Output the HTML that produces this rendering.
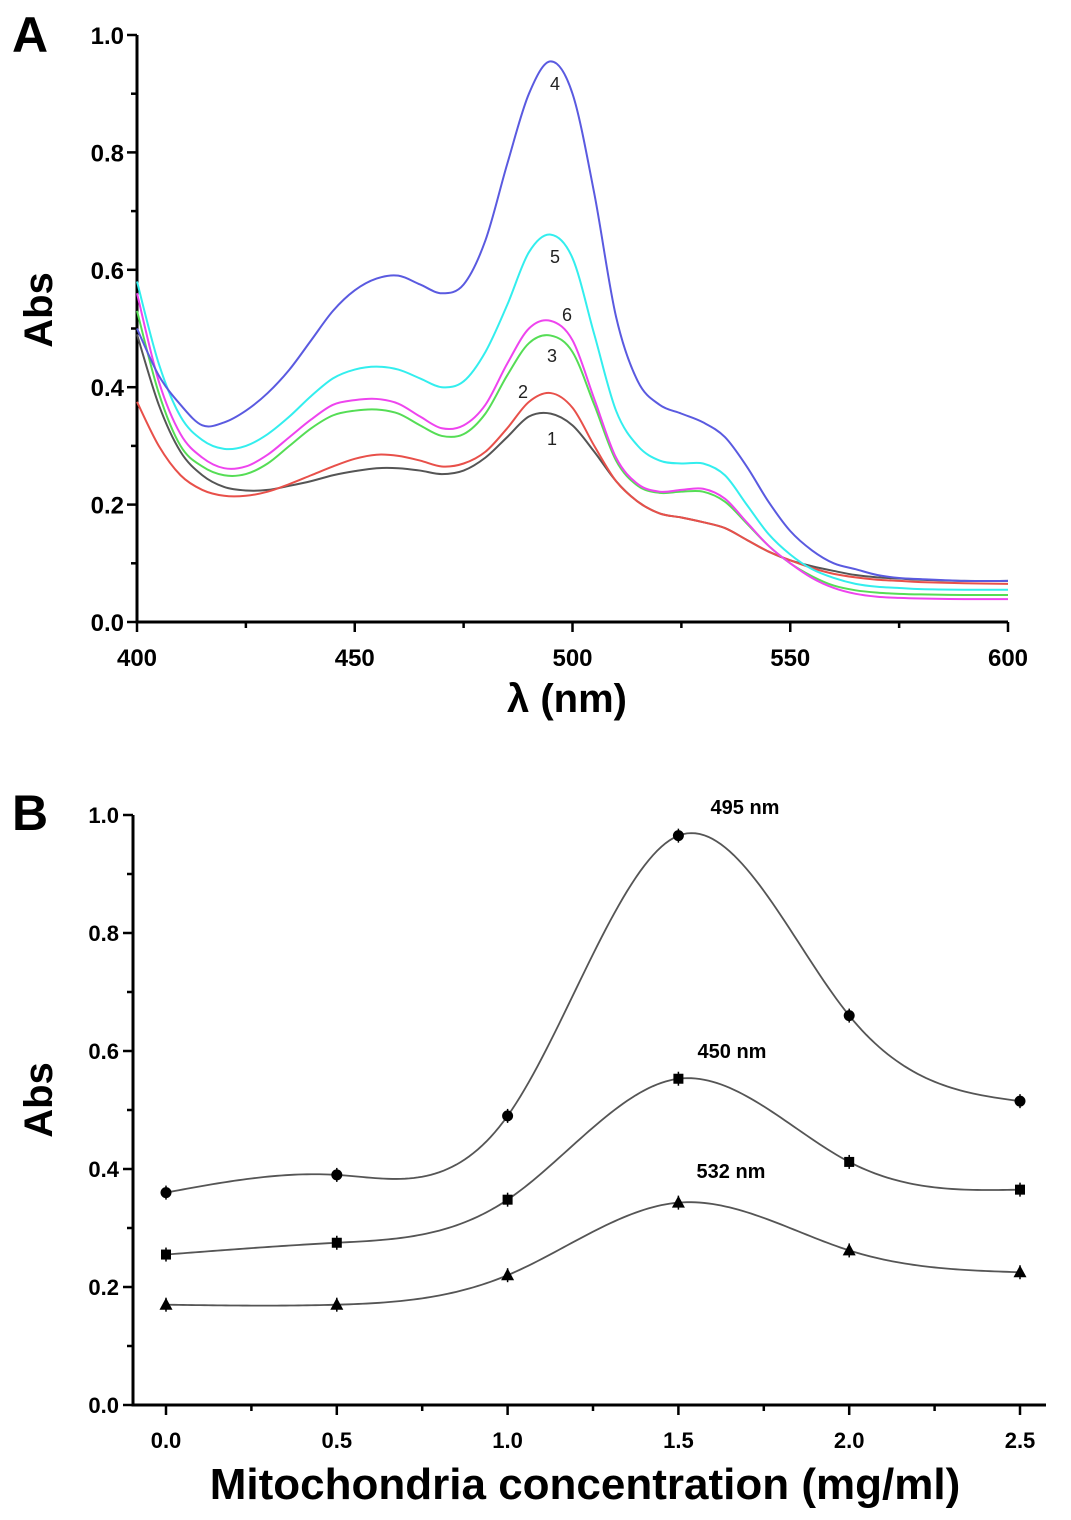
<!DOCTYPE html>
<html><head><meta charset="utf-8"><style>
body{margin:0;background:#fff}
svg{display:block;font-family:"Liberation Sans",Arial,sans-serif}
</style></head><body>
<svg id="fig" width="1071" height="1520" viewBox="0 0 1071 1520" xmlns="http://www.w3.org/2000/svg">
<g id="pa"></g>
<g id="pb"></g>
</svg>
<script>
const wavelengths=[400,405,410,415,420,425,430,435,440,445,450,455,460,465,470,475,480,485,490,495,500,505,510,515,520,525,530,535,540,545,550,555,560,565,570,575,580,590,600];
const s4=[0.50,0.42,0.37,0.335,0.34,0.36,0.39,0.43,0.48,0.53,0.565,0.585,0.59,0.575,0.56,0.575,0.65,0.78,0.90,0.955,0.90,0.73,0.52,0.41,0.37,0.355,0.34,0.315,0.265,0.205,0.155,0.122,0.10,0.09,0.08,0.075,0.073,0.07,0.07];
const s5=[0.58,0.44,0.35,0.31,0.295,0.30,0.32,0.35,0.385,0.415,0.43,0.435,0.43,0.415,0.40,0.41,0.46,0.54,0.63,0.66,0.62,0.49,0.36,0.30,0.275,0.27,0.27,0.25,0.20,0.15,0.115,0.09,0.075,0.065,0.06,0.058,0.056,0.055,0.055];
const s6=[0.56,0.41,0.32,0.28,0.262,0.265,0.285,0.315,0.345,0.37,0.378,0.38,0.372,0.35,0.33,0.335,0.37,0.44,0.50,0.513,0.48,0.38,0.28,0.235,0.222,0.225,0.227,0.21,0.17,0.13,0.10,0.075,0.058,0.048,0.043,0.041,0.04,0.039,0.039];
const s3=[0.53,0.39,0.30,0.265,0.25,0.252,0.27,0.30,0.33,0.352,0.36,0.362,0.355,0.335,0.317,0.32,0.355,0.42,0.475,0.488,0.46,0.37,0.275,0.232,0.22,0.222,0.222,0.205,0.168,0.13,0.10,0.078,0.062,0.054,0.05,0.048,0.047,0.046,0.046];
const s2=[0.375,0.30,0.25,0.225,0.215,0.215,0.222,0.235,0.25,0.265,0.278,0.285,0.283,0.275,0.265,0.27,0.29,0.33,0.375,0.39,0.365,0.30,0.24,0.205,0.185,0.178,0.17,0.16,0.14,0.12,0.105,0.092,0.082,0.076,0.072,0.07,0.068,0.066,0.065];
const s1=[0.49,0.37,0.29,0.25,0.23,0.224,0.225,0.232,0.24,0.25,0.257,0.262,0.262,0.258,0.252,0.258,0.28,0.315,0.35,0.355,0.335,0.29,0.24,0.205,0.185,0.178,0.17,0.16,0.14,0.12,0.105,0.095,0.087,0.08,0.076,0.074,0.072,0.07,0.07];
const concentrations=[0,0.5,1,1.5,2,2.5];
const abs495=[0.36,0.39,0.49,0.965,0.66,0.515];
const abs450=[0.255,0.275,0.348,0.553,0.412,0.365];
const abs532=[0.17,0.17,0.22,0.343,0.262,0.225];
const xTicksA=[400,450,500,550,600];
const yTicks=[0.0,0.2,0.4,0.6,0.8,1.0];
const xTicksB=[0,0.5,1,1.5,2,2.5];

const NS="http://www.w3.org/2000/svg";
function mk(parent,tag,attrs,text){const e=document.createElementNS(NS,tag);for(const k in attrs)e.setAttribute(k,attrs[k]);if(text!==undefined)e.textContent=text;parent.appendChild(e);return e;}
function smooth(pts){let d="M"+pts[0][0]+","+pts[0][1];for(let i=0;i<pts.length-1;i++){const p0=pts[Math.max(0,i-1)],p1=pts[i],p2=pts[i+1],p3=pts[Math.min(pts.length-1,i+2)];const c1=[p1[0]+(p2[0]-p0[0])/6,p1[1]+(p2[1]-p0[1])/6],c2=[p2[0]-(p3[0]-p1[0])/6,p2[1]-(p3[1]-p1[1])/6];d+=` C${c1[0]},${c1[1]} ${c2[0]},${c2[1]} ${p2[0]},${p2[1]}`;}return d;}
function natural(xs,ys){const n=xs.length,h=[],a=[],l=[1],mu=[0],z=[0],c=new Array(n).fill(0),b=[],d=[];
 for(let i=0;i<n-1;i++)h[i]=xs[i+1]-xs[i];
 for(let i=1;i<n-1;i++)a[i]=3/h[i]*(ys[i+1]-ys[i])-3/h[i-1]*(ys[i]-ys[i-1]);
 for(let i=1;i<n-1;i++){l[i]=2*(xs[i+1]-xs[i-1])-h[i-1]*mu[i-1];mu[i]=h[i]/l[i];z[i]=(a[i]-h[i-1]*z[i-1])/l[i];}
 for(let j=n-2;j>=0;j--){c[j]=(j>0?z[j]:0)-mu[j]*c[j+1];b[j]=(ys[j+1]-ys[j])/h[j]-h[j]*(c[j+1]+2*c[j])/3;d[j]=(c[j+1]-c[j])/(3*h[j]);}
 return x=>{let i=Math.min(n-2,Math.max(0,xs.findIndex((v,k)=>k<n-1&&x<=xs[k+1])));if(i<0)i=n-2;const t=x-xs[i];return ys[i]+b[i]*t+c[i]*t*t+d[i]*t*t*t;};}

// Panel A
const A=document.getElementById('pa');
const ax=v=>137+(v-400)/200*871, ay=v=>622-v*587;
let t=mk(A,'text',{x:12,y:52,'font-size':50,'font-weight':'bold'},'A');

let l=mk(A,'path',{d:`M137,35 V622 H1008`,stroke:'#000','stroke-width':3,fill:'none'});

for(let i=0;i<=10;i++){const y=ay(i/10);mk(A,'line',{x1:137,x2:i%2===0?127:131,y1:y,y2:y,stroke:'#000','stroke-width':2.5});}
for(let w=400;w<=600;w+=25){const x=ax(w);mk(A,'line',{x1:x,x2:x,y1:622,y2:w%50===0?632:628,stroke:'#000','stroke-width':2.5});}
yTicks.forEach(v=>{const e=mk(A,'text',{x:124,y:ay(v)+9,'text-anchor':'end','font-size':24,'font-weight':'bold'},v.toFixed(1));});
xTicksA.forEach(v=>{const e=mk(A,'text',{x:ax(v),y:666,'text-anchor':'middle','font-size':24,'font-weight':'bold'},String(v));});
t=mk(A,'text',{x:567,y:712,'text-anchor':'middle','font-size':40,'font-weight':'bold'},'λ (nm)');

t=mk(A,'text',{x:0,y:0,transform:'translate(52,310) rotate(-90)','text-anchor':'middle','font-size':40,'font-weight':'bold'},'Abs');

const series=[[s1,'#555555','spectrum-1'],[s2,'#e8504a','spectrum-2'],[s3,'#55dd55','spectrum-3'],[s6,'#ee44ee','spectrum-6'],[s5,'#33eeee','spectrum-5'],[s4,'#5a5ae0','spectrum-4']];
series.forEach(([s,c,n])=>{const p=mk(A,'path',{d:smooth(wavelengths.map((w,i)=>[ax(w),ay(s[i])])),stroke:c,'stroke-width':2,fill:'none'});});
[['4',555,90],['5',555,263],['6',567,321],['3',552,362],['2',523,398],['1',552,445]].forEach(([s,x,y])=>{const e=mk(A,'text',{x:x,y:y,'text-anchor':'middle','font-size':18,fill:'#222'},s);});

// Panel B
const B=document.getElementById('pb');
const bx=v=>166+v*341.6, by=v=>1405-v*590;
t=mk(B,'text',{x:12,y:830,'font-size':50,'font-weight':'bold'},'B');

l=mk(B,'path',{d:`M133,815 V1405 H1046`,stroke:'#000','stroke-width':3,fill:'none'});

for(let i=0;i<=10;i++){const y=by(i/10);mk(B,'line',{x1:133,x2:i%2===0?123:127,y1:y,y2:y,stroke:'#000','stroke-width':2.5});}
for(let i=0;i<=10;i++){const x=bx(i*0.25);mk(B,'line',{x1:x,x2:x,y1:1405,y2:i%2===0?1415:1411,stroke:'#000','stroke-width':2.5});}
yTicks.forEach(v=>{const e=mk(B,'text',{x:119,y:by(v)+8,'text-anchor':'end','font-size':22,'font-weight':'bold'},v.toFixed(1));});
xTicksB.forEach(v=>{const e=mk(B,'text',{x:bx(v),y:1448,'text-anchor':'middle','font-size':22,'font-weight':'bold'},v.toFixed(1));});
t=mk(B,'text',{x:585,y:1499,'text-anchor':'middle','font-size':44,'font-weight':'bold'},'Mitochondria concentration (mg/ml)');

t=mk(B,'text',{x:0,y:0,transform:'translate(52,1100) rotate(-90)','text-anchor':'middle','font-size':40,'font-weight':'bold'},'Abs');

[[abs495,'circle','series-495nm'],[abs450,'square','series-450nm'],[abs532,'triangle','series-532nm']].forEach(([s,m,n])=>{
 const f=natural(concentrations,s);
 let d="";const c0=concentrations[0],c1=concentrations[concentrations.length-1];
 for(let k=0;k<=200;k++){const c=c0+(c1-c0)*k/200;d+=(k?"L":"M")+bx(c).toFixed(2)+","+by(f(c)).toFixed(2);}
 const p=mk(B,'path',{d:d,stroke:'#555','stroke-width':1.8,fill:'none'});
 
 concentrations.forEach((c,i)=>{const x=bx(c),y=by(s[i]);
  mk(B,'line',{x1:x,x2:x,y1:y-7,y2:y+7,stroke:'#000','stroke-width':1.5});
  let e;
  if(m==='circle')e=mk(B,'circle',{cx:x,cy:y,r:5.5,fill:'#000'});
  else if(m==='square')e=mk(B,'rect',{x:x-5,y:y-5,width:10,height:10,fill:'#000'});
  else e=mk(B,'polygon',{points:`${x},${y-7} ${x-6.5},${y+5} ${x+6.5},${y+5}`,fill:'#000'});
  
 });
});
[['495 nm',745,814],['450 nm',732,1058],['532 nm',731,1178]].forEach(([s,x,y])=>{const e=mk(B,'text',{x:x,y:y,'text-anchor':'middle','font-size':20,'font-weight':'bold'},s);});
</script>
</body></html>
